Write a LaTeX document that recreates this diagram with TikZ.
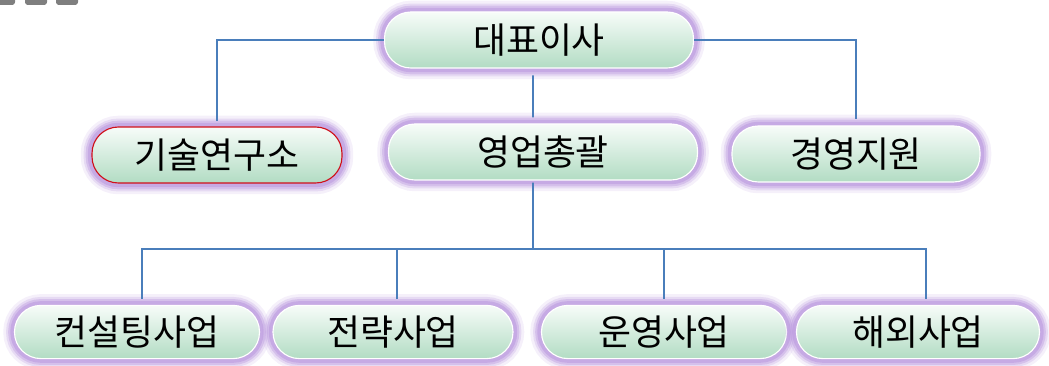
\documentclass[tikz,border=0pt]{standalone}
\usepackage{fontspec}
\newfontfamily\krfont{Noto Sans CJK KR}
\usepackage{xcolor}
\usetikzlibrary{positioning,calc}
\definecolor{boxtop}{HTML}{F7FCF9}
\definecolor{boxbottom}{HTML}{B2DCC3}
\definecolor{glow}{HTML}{BA98DE}
\definecolor{linkblue}{HTML}{4A7EBB}
\definecolor{labred}{HTML}{D0101A}
\definecolor{tabgray}{HTML}{7F7F7F}
\tikzset{
  orgbox/.style={rectangle, rounded corners=0.66cm, minimum height=1.4cm, inner sep=0pt,
    top color=boxtop, bottom color=boxbottom, draw=white, line width=0.8pt,
    font=\krfont\fontsize{25.5}{30}\selectfont, text=black,
    preaction={draw=glow, line width=16pt, draw opacity=0.15},
    preaction={draw=glow, line width=12pt, draw opacity=0.25},
    preaction={draw=glow, line width=9pt, draw opacity=0.4},
    preaction={draw=glow, line width=6pt, draw opacity=0.55}},
  subbox/.style={minimum height=1.33cm},
  link/.style={draw=linkblue, line width=1.2pt}
}

\begin{document}
\begin{tikzpicture}
    \useasboundingbox (0,0) rectangle (26.225,9.15);

    % Tabs cut off at the top
    \begin{scope}
      \clip (0,0) rectangle (26.225,9.15);
      \fill[tabgray,rounded corners=2pt] (-0.175,9.025) rectangle (0.375,9.5);
      \fill[tabgray,rounded corners=2pt] (0.625,9.025) rectangle (1.175,9.5);
      \fill[tabgray,rounded corners=2pt] (1.4,9.025) rectangle (1.95,9.5);
    \end{scope}

    % Top and middle level
    \node[orgbox,minimum width=7.725cm] (ceo) at (13.475,8.15) {대표이사};
    \node[orgbox,minimum width=6.25cm,draw=labred] (lab) at (5.425,5.275) {기술연구소};
    \node[orgbox,minimum width=7.725cm] (sales) at (13.575,5.35) {영업총괄};
    \node[orgbox,minimum width=6.2cm] (mgmt) at (21.4,5.3) {경영지원};

    % Business units
    \node[orgbox,subbox,minimum width=6.125cm] (consult) at (3.425,0.85) {컨설팅사업};
    \node[orgbox,subbox,minimum width=6.0cm] (strategy) at (9.825,0.85) {전략사업};
    \node[orgbox,subbox,minimum width=6.125cm] (ops) at (16.6,0.85) {운영사업};
    \node[orgbox,subbox,minimum width=6.075cm] (overseas) at (22.95,0.85) {해외사업};

    % Connectors
    \draw[link,shorten >=0.13cm] (ceo.west) -| (lab.north);
    \draw[link,shorten >=0.17cm] (ceo.east) -| (mgmt.north);
    \draw[link,shorten <=0.17cm,shorten >=0.15cm] ([xshift=-0.15cm]ceo.south) -- ([xshift=-0.25cm]sales.north);
    \coordinate (bus) at (13.325,2.925);
    \draw[link,shorten <=0.05cm] ([xshift=-0.25cm]sales.south) -- (bus);
    \draw[link,shorten >=0.15cm] (bus) -| ([xshift=0.125cm]consult.north);
    \draw[link,shorten >=0.15cm] (bus) -| ([xshift=0.1cm]strategy.north);
    \draw[link,shorten >=0.15cm] (bus) -| (ops.north);
    \draw[link,shorten >=0.15cm] (bus) -| ([xshift=0.2cm]overseas.north);
\end{tikzpicture}
\end{document}
